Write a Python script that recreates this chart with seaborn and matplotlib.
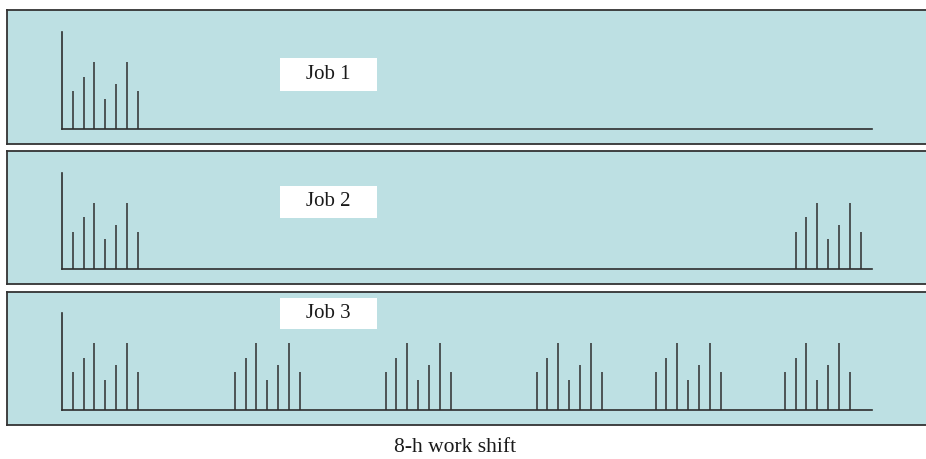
import matplotlib
matplotlib.use("Agg")
import matplotlib.pyplot as plt
import seaborn as sns
import pandas as pd

# ---- data (time in minutes of an 8-h shift, height in % of axis) ----
burst_offsets = [0, 6.3, 12.6, 19.1, 25.6, 32.1, 38.5]
burst_heights = [39, 54, 69, 31, 46, 69, 39]
job_names = ["Job 1", "Job 2", "Job 3"]
job1_starts = [6.5]
job2_starts = [6.5, 434.8]
job3_starts = [6.5, 102.5, 191.8, 281.3, 351.8, 428.4]
xlabel_text = "8-h work shift"

sns.set_theme(style="white")
plt.rcParams["font.family"] = ["Liberation Serif", "DejaVu Serif"]

W, H = 926, 459
fig = plt.figure(figsize=(W / 100, H / 100), dpi=100)
fig.patch.set_facecolor("white")

def fr(x0, y0, x1, y1):
    return [x0 / W, 1 - y1 / H, (x1 - x0) / W, (y1 - y0) / H]

panels = [(10, 144), (150.7, 284), (292.3, 425)]
inner = [(32, 129), (172.7, 269.3), (313, 410)]
labels = [(58, 91), (186, 218), (298, 329)]
starts = [job1_starts, job2_starts, job3_starts]

bg = "#bde0e3"
dark = "#2e2e2e"

for i in range(3):
    # panel background
    pa = fig.add_axes(fr(7, panels[i][0], 935, panels[i][1]))
    pa.set_facecolor(bg)
    pa.set_xticks([]); pa.set_yticks([])
    for s in pa.spines.values():
        s.set_color("#333333"); s.set_linewidth(1.3)
    pa.spines["right"].set_visible(False)

    # data frame for bursts
    rows = []
    for st in starts[i]:
        for off, h in zip(burst_offsets, burst_heights):
            rows.append({"time": round(st + off, 2), "height": h})
    df = pd.DataFrame(rows)

    ax = fig.add_axes(fr(62, inner[i][0], 872, inner[i][1]))
    ax.patch.set_alpha(0)
    sns.barplot(data=df, x="time", y="height", native_scale=True,
                width=0.01, color=dark, saturation=1, linewidth=1.1,
                edgecolor=dark, ax=ax, errorbar=None)
    ax.set_xlim(0, 480)
    ax.set_ylim(0, 100)
    ax.set_xticks([]); ax.set_yticks([])
    ax.set_xlabel(""); ax.set_ylabel("")
    for side in ["top", "right"]:
        ax.spines[side].set_visible(False)
    for side in ["left", "bottom"]:
        ax.spines[side].set_color(dark)
        ax.spines[side].set_linewidth(1.2)

    # label box
    la = fig.add_axes(fr(280, labels[i][0], 377, labels[i][1]))
    la.set_facecolor("white")
    la.set_xticks([]); la.set_yticks([])
    for s in la.spines.values():
        s.set_visible(False)
    la.text(0.5, 0.5, job_names[i], ha="center", va="center",
            fontsize=15, color="#1a1a1a", transform=la.transAxes)

fig.text(455 / W, 1 - 448 / H, xlabel_text, ha="center", va="center",
         fontsize=15.5, color="#1a1a1a")

fig.savefig("out.png", dpi=100, facecolor="white")
